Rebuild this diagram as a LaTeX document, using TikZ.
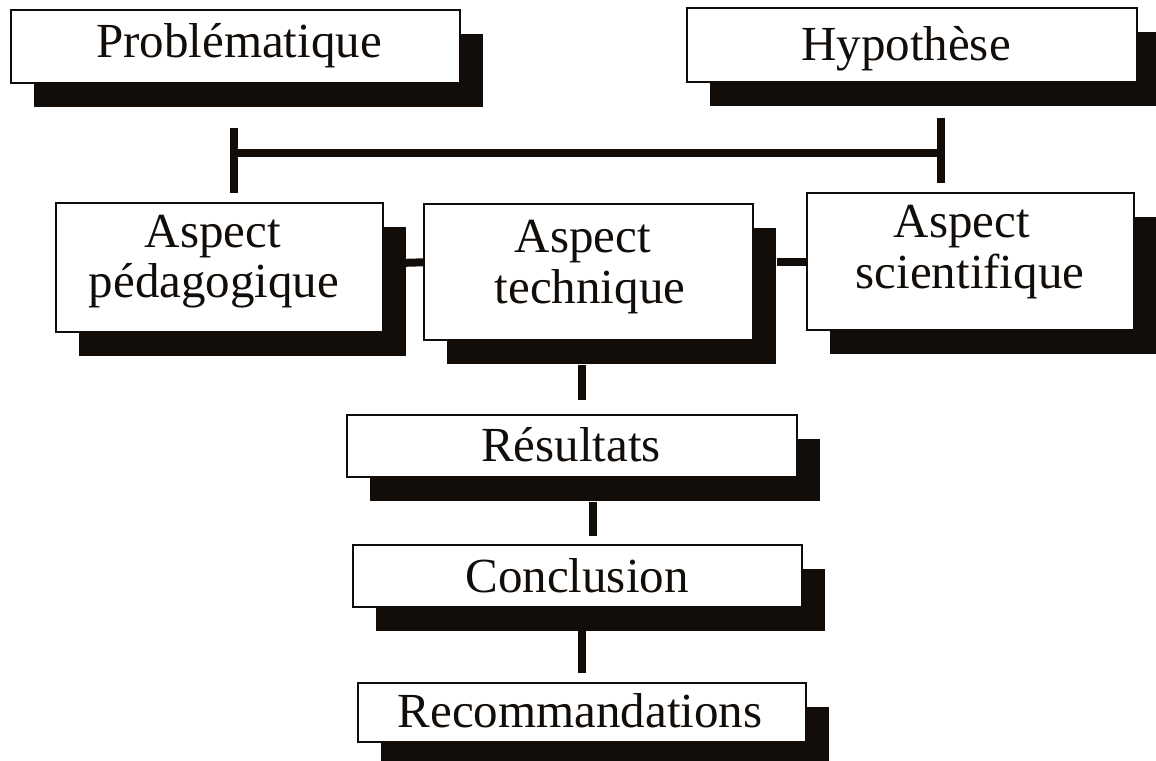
\documentclass[tikz,border=0pt]{standalone}
\usepackage{fontspec}
\setmainfont{Liberation Serif}
\usetikzlibrary{shadows,calc}
\definecolor{ink}{RGB}{18,13,8}
\begin{document}
\begin{tikzpicture}[x=1pt,y=-1pt,
  box/.style={draw=ink,line width=1.6pt,fill=white,inner sep=0pt,anchor=north west,
    general shadow={fill=ink,shadow xshift=23.5pt,shadow yshift=-24pt}},
  caption/.style={anchor=base,font=\fontsize{49}{53}\selectfont,text=ink,inner sep=0pt},
  link/.style={draw=ink,line width=8pt}]
\useasboundingbox[fill=white] (0,0) rectangle (1156,760);

% boxes with their drop shadows
\node[box,minimum width=449pt,minimum height=73pt]  (pb) at (10,9)    {};
\node[box,minimum width=450pt,minimum height=74pt]  (hy) at (686,7)   {};
\node[box,minimum width=327pt,minimum height=129pt] (pe) at (55,202)  {};
\node[box,minimum width=329pt,minimum height=136pt] (te) at (423,203) {};
\node[box,minimum width=327pt,minimum height=137pt] (sc) at (806,192) {};
\node[box,minimum width=450pt,minimum height=62pt]  (re) at (346,414) {};
\node[box,minimum width=449pt,minimum height=62pt]  (co) at (352,544) {};
\node[box,minimum width=448pt,minimum height=59pt]  (rc) at (357,682) {};

% captions
\node[caption] (pbt)  at (239,57)  {Problématique};
\node[caption] (hyt)  at (906,60)  {Hypothèse};
\node[caption] (pet1) at (213,247) {Aspect};
\node[caption] (pet2) at (214,297) {pédagogique};
\node[caption] (tet1) at (583,252) {Aspect};
\node[caption] (tet2) at (590,303) {technique};
\node[caption] (sct1) at (962,237) {Aspect};
\node[caption] (sct2) at (970,288) {scientifique};
\node[caption] (ret)  at (571,461) {Résultats};
\node[caption] (cot)  at (577,592) {Conclusion};
\node[caption] (rct)  at (580,727) {Recommandations};

% connector end points
\coordinate (pbS) at ($(pb.south)+(-1.5,44)$);
\coordinate (peN) at ($(pe.north)+(14.5,-9)$);
\coordinate (hyS) at ($(hy.south)+(29,35)$);
\coordinate (scN) at ($(sc.north)+(-29.5,-9)$);
\coordinate (barL) at (pbS |- 0,153);
\coordinate (barR) at (hyS |- 0,153);
\coordinate (barM) at ($(te.north)+(1.5,0)$ |- 0,153);
\coordinate (teS) at ($(te.south)+(-6.5,24)$);
\coordinate (reN) at ($(re.north)+(10,-14)$);
\coordinate (reS) at ($(re.south)+(21,24)$);
\coordinate (coN) at ($(co.north)+(15.5,-8)$);
\coordinate (coS) at ($(co.south)+(4.5,23)$);
\coordinate (rcN) at ($(rc.north)+(0,-9)$);

% connectors
\draw[link] (pbS) -- (peN);
\draw[link] (hyS) -- (scN);
\draw[link] (barL) -- (barR);
\draw[link] (barM) -- ($(te.north)+(1.5,0)$);
\draw[link] ($(pe.east)+(22,-4.5)$) -- ($(te.west)+(0,-9.5)$);
\draw[link] ($(te.east)+(23,-10)$) -- ($(sc.west)+(0,0.5)$);
\draw[link] (teS) -- (teS |- reN);
\draw[link] (reS) -- (reS |- coN);
\draw[link] (coS) -- (coS |- rcN);
\end{tikzpicture}
\end{document}
